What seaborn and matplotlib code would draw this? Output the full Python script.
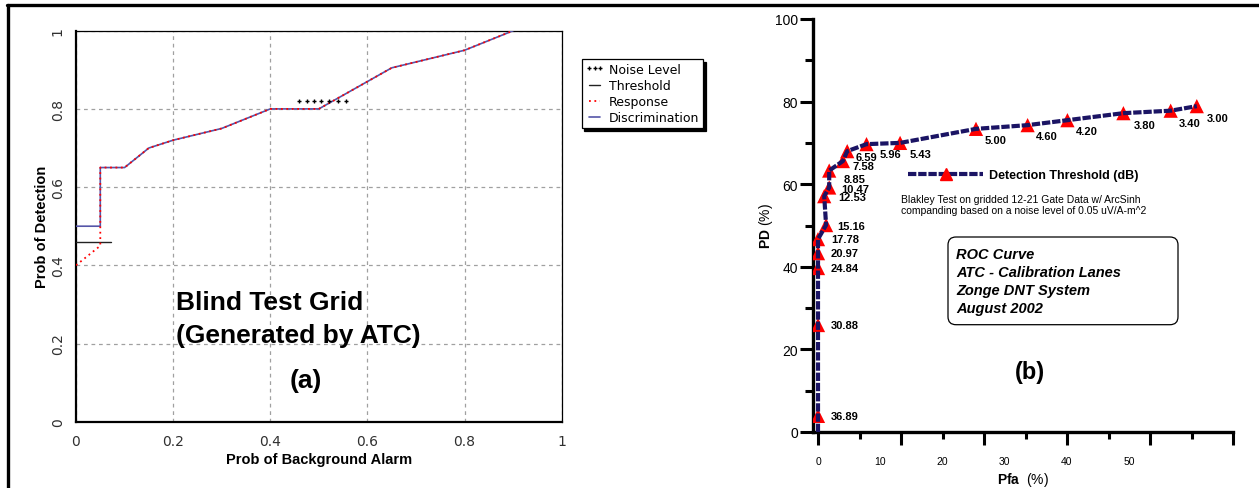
import numpy as np
import matplotlib
matplotlib.use("Agg")
import matplotlib.pyplot as plt
from matplotlib.lines import Line2D
from matplotlib.patches import FancyBboxPatch
import seaborn as sns

# ---- panel (a): Blind Test Grid ----
disc_x = [0.0, 0.05, 0.05, 0.10, 0.15, 0.20, 0.30, 0.40, 0.50, 0.65, 0.80, 0.90]
disc_y = [0.50, 0.50, 0.65, 0.65, 0.70, 0.72, 0.75, 0.80, 0.80, 0.905, 0.95, 1.00]
resp_x = [0.0, 0.05, 0.05, 0.10, 0.15, 0.20, 0.30, 0.40, 0.50, 0.65, 0.80, 0.90]
resp_y = [0.40, 0.45, 0.65, 0.65, 0.70, 0.72, 0.75, 0.80, 0.80, 0.905, 0.95, 1.00]
thr_x = [0.0, 0.072]
thr_y = [0.46, 0.46]
noise_x = [0.46, 0.475, 0.49, 0.505, 0.52, 0.54, 0.555]
noise_y = [0.82, 0.82, 0.82, 0.82, 0.82, 0.82, 0.82]

# ---- panel (b): ROC curve ----
thresh_db = ["36.89", "30.88", "24.84", "20.97", "17.78", "15.16", "12.53", "10.47",
             "8.85", "7.58", "6.59", "5.96", "5.43", "5.00", "4.60", "4.20", "3.80",
             "3.40", "3.00"]
pfa = [0.0, 0.0, 0.0, 0.0, 0.0, 1.3, 1.0, 1.8, 1.8, 4.0, 4.7, 7.8, 13.2, 25.4,
       33.7, 40.1, 49.1, 56.7, 60.9]
pd_ = [3.9, 25.9, 39.7, 43.3, 46.7, 50.1, 57.1, 59.2, 63.3, 65.6, 68.0, 69.7, 70.0,
       73.4, 74.3, 75.5, 77.2, 77.8, 78.9]

# label offsets (pixels) for each threshold label
lab_off = [(13, 0), (13, 0), (13, 0), (13, 0), (13, 0), (11, 1), (14, 1), (12, 1),
           (14, 8), (10, 5), (8, 6), (13, 10), (10, 11), (9, 11), (8, 11), (8, 11),
           (10, 12), (8, 12), (10, 12)]

W, H = 1259, 489

sns.set_theme(style="white")
plt.rcParams["font.family"] = ["Liberation Sans", "DejaVu Sans"]
plt.rcParams["mathtext.fontset"] = "custom"
plt.rcParams["mathtext.rm"] = "Liberation Sans"
plt.rcParams["mathtext.bf"] = "Liberation Sans:bold"
plt.rcParams["text.color"] = "black"
plt.rcParams["axes.labelcolor"] = "black"
plt.rcParams["xtick.color"] = "black"
plt.rcParams["ytick.color"] = "black"

fig = plt.figure(figsize=(W / 100, H / 100), dpi=100)


def fx(px):
    return px / W


def fy(py):
    return 1 - py / H


# frame lines of the original figure
fig.add_artist(Line2D([fx(7), 1], [fy(5.5), fy(5.5)], color="black", lw=2.4))
fig.add_artist(Line2D([fx(8.3), fx(8.3)], [0, fy(5.5)], color="black", lw=2.4))

# ================= panel (a) =================
ax1 = fig.add_axes([fx(76), fy(422.7), 485.7 / W, 391 / H])
blue = "#5555a8"
sns.lineplot(x=disc_x, y=disc_y, sort=False, estimator=None, ax=ax1,
             color=blue, lw=1.2, label="Discrimination", zorder=3)
sns.lineplot(x=resp_x, y=resp_y, sort=False, estimator=None, ax=ax1,
             color="red", lw=1.3, ls=(0, (1, 2)), label="Response", zorder=4)
sns.lineplot(x=thr_x, y=thr_y, sort=False, estimator=None, ax=ax1,
             color="#222222", lw=1.0, label="Threshold", zorder=3)
ax1.plot(noise_x, noise_y, ls="none", marker="+", ms=3, mew=1.0, color="black",
         label="Noise Level", zorder=5)

ax1.set_xlim(0, 1)
ax1.set_ylim(0, 1)
ticks = [0, 0.2, 0.4, 0.6, 0.8, 1.0]
tlabels = ["0", "0.2", "0.4", "0.6", "0.8", "1"]
ax1.set_xticks(ticks)
ax1.set_xticklabels(tlabels, fontfamily="DejaVu Sans", fontsize=10, color="#303030")
ax1.set_yticks(ticks)
ax1.set_yticklabels(tlabels, fontfamily="DejaVu Sans", fontsize=10, color="#303030",
                    rotation=90, va="center")
ax1.set_xticks(np.arange(0, 1.001, 0.05), minor=True)
ax1.set_yticks(np.arange(0, 1.001, 0.05), minor=True)
ax1.tick_params(which="both", direction="out", length=3, width=0.8, color="#888888")
ax1.tick_params(axis="x", which="major", pad=6)
ax1.tick_params(axis="y", which="major", pad=5)
ax1.grid(True, which="major", color="#a0a0a0", ls=(0, (3, 3)), lw=0.9)
for s in ["left", "bottom"]:
    ax1.spines[s].set_linewidth(1.6)
for s in ["top", "right"]:
    ax1.spines[s].set_linewidth(0.9)
for s in ax1.spines.values():
    s.set_color("black")
ax1.set_xlabel("Prob of Background Alarm", fontsize=10.5, fontweight="bold", labelpad=3)
ax1.set_ylabel("Prob of Detection", fontsize=10.5, fontweight="bold", labelpad=1)

h, l = ax1.get_legend_handles_labels()
order = ["Noise Level", "Threshold", "Response", "Discrimination"]
hd = dict(zip(l, h))
leg = ax1.legend([hd[k] for k in order], order, loc="upper left",
                 bbox_to_anchor=(fx(581.7), fy(60)), bbox_transform=fig.transFigure,
                 borderaxespad=0, fontsize=9, frameon=True, fancybox=False,
                 shadow={"color": "black", "alpha": 1}, handlelength=1.5,
                 handletextpad=0.4, labelspacing=0.25, borderpad=0.3, numpoints=3)
leg.get_frame().set_edgecolor("black")
leg.get_frame().set_linewidth(0.9)
for t in leg.get_texts():
    t.set_fontfamily("DejaVu Sans")

fig.text(fx(175.5), fy(310), "Blind Test Grid", fontsize=19, fontweight="bold",
         va="baseline", ha="left")
fig.text(fx(175.5), fy(343.3), "(Generated by ATC)", fontsize=19, fontweight="bold",
         va="baseline", ha="left")
fig.text(fx(306), fy(388.3), "(a)", fontsize=19, fontweight="bold",
         va="baseline", ha="center")

# ================= panel (b) =================
ax2 = fig.add_axes([fx(813.3), fy(433), 419.7 / W, 413 / H])
x0, x1 = -0.756, 66.72
navy = "#1b1464"
line_x = [0.0] + pfa
line_y = [0.0] + pd_
sns.scatterplot(x=pfa, y=pd_, ax=ax2, marker="^", s=105, color="red",
                edgecolor="none", zorder=3, legend=False)
sns.lineplot(x=line_x, y=line_y, sort=False, estimator=None, ax=ax2, color=navy,
             lw=3, ls=(0, (2.0, 0.45)), zorder=4, legend=False)

for xv, yv, lab, (dx, dy) in zip(pfa, pd_, thresh_db, lab_off):
    ax2.annotate(lab, (xv, yv), xytext=(dx, -dy), textcoords="offset pixels",
                 ha="left", va="center", fontsize=8, fontweight="bold", zorder=5)

ax2.set_xlim(x0, x1)
ax2.set_ylim(0, 100)
sns.despine(ax=ax2)
for s in ["left", "bottom"]:
    ax2.spines[s].set_linewidth(2.4)
    ax2.spines[s].set_color("black")

tick_pos = np.linspace(0, x1, 11)
ax2.set_xticks(tick_pos[::2])
ax2.set_xticks(tick_pos[1::2], minor=True)
ax2.set_xticklabels([])
ax2.tick_params(axis="x", which="major", direction="out", length=9.5, width=2.2,
                color="black", bottom=True)
ax2.tick_params(axis="x", which="minor", direction="out", length=5, width=2.2,
                color="black", bottom=True)
ax2.set_yticks([0, 20, 40, 60, 80, 100])
ax2.set_yticks([10, 30, 50, 70, 90], minor=True)
ax2.tick_params(axis="y", which="major", direction="out", length=9.5, width=2.2,
                color="black", left=True, labelsize=10, pad=1.5)
ax2.tick_params(axis="y", which="minor", direction="out", length=5.5, width=2.2,
                color="black", left=True)
ax2.set_ylabel(r"$\mathbf{PD}$ (%)", fontsize=10, labelpad=0)

sec = ax2.secondary_xaxis("bottom")
sec.set_xticks([0, 10, 20, 30, 40, 50])
sec.set_xticklabels(["0", "10", "20", "30", "40", "50"], fontsize=7.5)
sec.tick_params(length=0, pad=17)
sec.spines["bottom"].set_visible(False)
sec.set_xlabel(r"$\mathbf{Pfa}$  (%)", fontsize=10, labelpad=3)

h2 = Line2D([], [], color=navy, lw=3, ls=(0, (2.0, 0.45)), marker="^", ms=9,
            mfc="red", mec="red")
ax2.legend([h2], ["Detection Threshold (dB)"], loc="center left",
           bbox_to_anchor=(fx(908), fy(176)), bbox_transform=fig.transFigure,
           frameon=False, borderaxespad=0, borderpad=0, handlelength=6,
           handletextpad=0.5, numpoints=1,
           prop={"family": "Liberation Sans", "weight": "bold", "size": 9})

fig.text(fx(901), fy(205.5),
         "Blakley Test on gridded 12-21 Gate Data w/ ArcSinh\n"
         "companding based on a noise level of 0.05 uV/A-m^2",
         fontsize=7.5, ha="left", va="center", linespacing=1.15)

box = FancyBboxPatch((9.48, (H - 325.7) / 100), 2.30, 0.877,
                     boxstyle="round,pad=0,rounding_size=0.08",
                     transform=fig.dpi_scale_trans, facecolor="white",
                     edgecolor="black", lw=0.9)
fig.add_artist(box)
fig.text(fx(956), fy(282), "ROC Curve\nATC - Calibration Lanes\nZonge DNT System\nAugust 2002",
         fontsize=10.5, fontweight="bold", fontstyle="italic", ha="left", va="center",
         linespacing=1.35)
fig.text(fx(1030), fy(373), "(b)", fontsize=17, fontweight="bold", ha="center",
         va="center")

fig.savefig("out.png", dpi=100)
